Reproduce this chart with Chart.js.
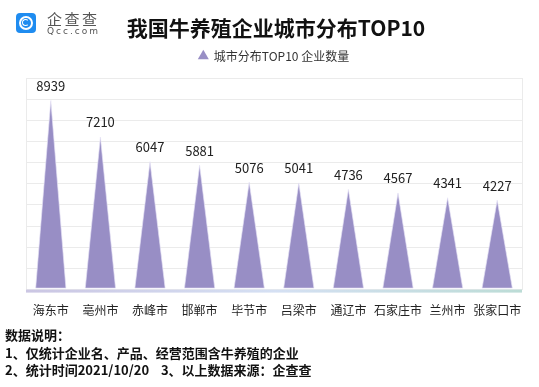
<!DOCTYPE html>
<html>
<head>
<meta charset="utf-8">
<script src="https://cdn.jsdelivr.net/npm/chart.js@4.4.1/dist/chart.umd.min.js"></script>
<style>
    body { margin: 0; background: #fff; font-family: "Noto Sans CJK SC", "Noto Sans", sans-serif; }
    #wrap { position: relative; width: 539px; height: 387px; overflow: hidden; }
    #myChart { position: absolute; left: 0; top: 0; }
    .logo { position: absolute; left: 16px; top: 13px; width: 20px; height: 20px; border-radius: 4px; background: #1f8cf0; }
    .logo .ring { position: absolute; left: 3px; top: 3px; width: 10px; height: 10px; border: 2px solid #fff; border-radius: 50%; }
    .logo .ring2 { position: absolute; left: 6px; top: 6px; width: 5px; height: 5px; border: 1.5px solid #fff; border-right-color: transparent; border-radius: 50%; }
    .brand { position: absolute; left: 47px; top: 10px; font-size: 15px; color: #555; letter-spacing: 2.5px; line-height: 18px; }
    .brand2 { position: absolute; left: 47px; top: 27px; font-size: 9px; color: #555; letter-spacing: 2px; line-height: 9px; font-family: "DejaVu Sans", sans-serif; }
    .title { position: absolute; left: 13px; width: 526px; top: 13px; text-align: center; font-size: 21px; font-weight: bold; color: #111; line-height: 28px; }
    .notes { position: absolute; left: 5px; top: 326px; font-size: 13px; font-weight: bold; color: #111; line-height: 17.5px; }
</style>
</head>
<body>
<div id="wrap">
    <canvas id="myChart" width="539" height="387"></canvas>
    <div class="logo"><div class="ring"></div><div class="ring2"></div></div>
    <div class="brand">企查查</div>
    <div class="brand2">Qcc.com</div>
    <div class="title">我国牛养殖企业城市分布TOP10</div>
    <div class="notes">
        数据说明：<br>
        1、仅统计企业名、产品、经营范围含牛养殖的企业<br>
        2、统计时间2021/10/20&nbsp;&nbsp;&nbsp;&nbsp;3、以上数据来源：企查查
    </div>
</div>
<script>
var cities = ['海东市', '亳州市', '赤峰市', '邯郸市', '毕节市', '吕梁市', '通辽市', '石家庄市', '兰州市', '张家口市'];
var counts = [8939, 7210, 6047, 5881, 5076, 5041, 4736, 4567, 4341, 4227];
var seriesName = '城市分布TOP10 企业数量';

var fontFamily = '"Noto Sans CJK SC", "Noto Sans", sans-serif';
var myChart;

// draws the bars as spikes and puts the value above each one
const spikePlugin = {
    id: 'spikes',
    beforeDatasetsDraw(chart) {
        var ctx = chart.ctx;
        var area = chart.chartArea;

        // gradient axis strip
        var g = ctx.createLinearGradient(area.left, 0, area.right, 0);
        g.addColorStop(0, '#cbc6e3');
        g.addColorStop(0.5, '#d5e0f3');
        g.addColorStop(1, '#bcdcd6');
        ctx.save();
        ctx.fillStyle = g;
        ctx.fillRect(area.left, area.bottom, area.right - area.left, 3);

        var meta = chart.getDatasetMeta(0);
        meta.data.forEach((bar, i) => {
            var half = bar.width / 2;
            ctx.beginPath();
            ctx.moveTo(bar.x - half, bar.base - 1);
            ctx.lineTo(bar.x, bar.y);
            ctx.lineTo(bar.x + half, bar.base - 1);
            ctx.closePath();
            ctx.fillStyle = '#988ec5';
            ctx.fill();
            ctx.strokeStyle = 'rgba(230,226,245,0.8)';
            ctx.lineWidth = 0.8;
            ctx.stroke();

            ctx.fillStyle = '#222';
            ctx.font = '13px ' + fontFamily;
            ctx.textAlign = 'center';
            ctx.textBaseline = 'bottom';
            ctx.fillText(counts[i], bar.x, bar.y - 8);
        });
        ctx.restore();
        return false;
    }
};

// a bit of space between the legend and the plot
const legendGap = {
    id: 'legendGap',
    beforeInit(chart) {
        var fit = chart.legend.fit;
        chart.legend.fit = function() {
            fit.bind(chart.legend)();
            this.height += 6;
        };
    }
};

function init_chart() {
    var ctx = document.getElementById('myChart').getContext('2d');

    const data = {
        labels: cities,
        datasets: [{
            label: seriesName,
            data: counts,
            backgroundColor: '#988ec5',
            borderWidth: 0,
            pointStyle: 'triangle',
            categoryPercentage: 1,
            barPercentage: 0.61
        }]
    };

    const config = {
        type: 'bar',
        data: data,
        plugins: [spikePlugin, legendGap],
        options: {
            responsive: false,
            animation: false,
            layout: { padding: { left: 26, right: 17, top: 42, bottom: 55 } },
            plugins: {
                tooltip: { enabled: false },
                legend: {
                    labels: {
                        usePointStyle: true,
                        boxWidth: 9,
                        boxHeight: 9,
                        padding: 8,
                        color: '#333',
                        font: { family: fontFamily, size: 12 }
                    }
                }
            },
            scales: {
                x: {
                    grid: { display: false, drawTicks: false },
                    border: { display: false },
                    ticks: {
                        color: '#222',
                        padding: 14,
                        maxRotation: 0,
                        autoSkip: false,
                        font: { family: fontFamily, size: 12 }
                    }
                },
                y: {
                    min: 0,
                    max: 10000,
                    ticks: { display: false, stepSize: 1000 },
                    grid: { color: '#ebebeb', drawTicks: false },
                    border: { display: true, color: '#ebebeb' }
                },
                y1: {
                    position: 'right',
                    min: 0,
                    max: 10000,
                    ticks: { display: false },
                    grid: { display: false, drawTicks: false },
                    border: { display: true, color: '#ebebeb' }
                }
            }
        }
    };

    myChart = new Chart(ctx, config);
}

init_chart();
</script>
</body>
</html>
